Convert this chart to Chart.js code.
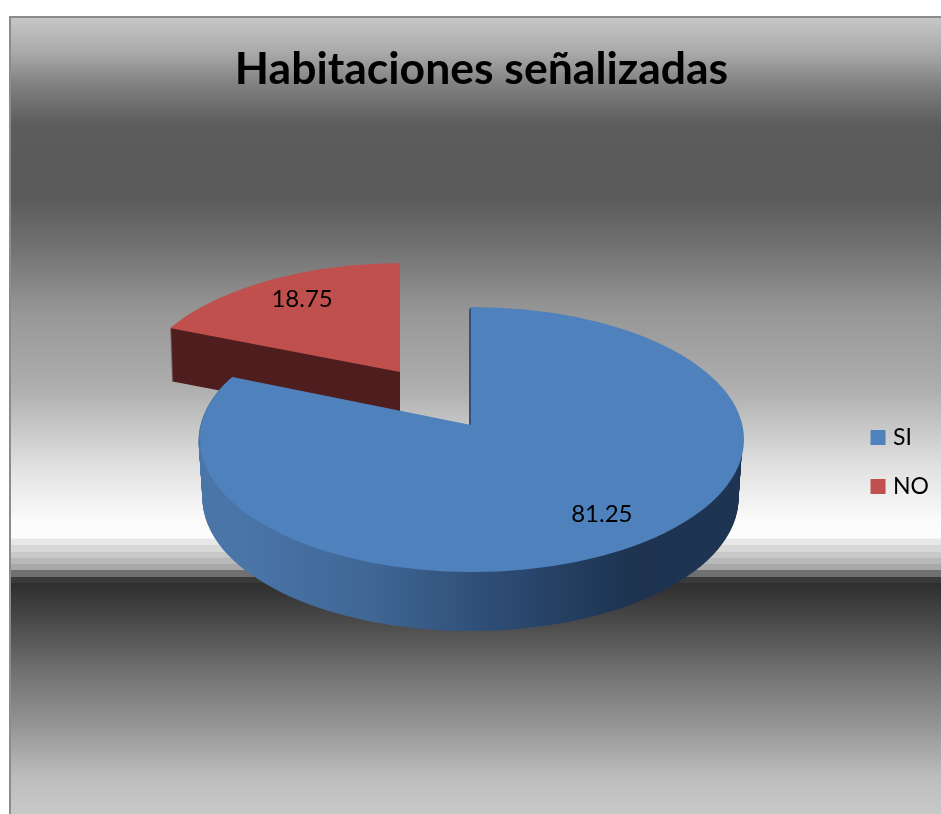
<!DOCTYPE html>
<html>
<head>
<meta charset="utf-8">
<title>Habitaciones señalizadas</title>
<style>
  body { margin: 0; background: #fff; }
  canvas { display: block; }
</style>
<script src="https://cdn.jsdelivr.net/npm/chart.js@4"></script>
</head>
<body>
<canvas id="pieChart" width="941" height="814"></canvas>
<script>
const chartTitle = 'Habitaciones señalizadas';
const categories = ['SI', 'NO'];
const seriesValues = [81.25, 18.75];
const sliceColors = ['#4f81bd', '#c0504d'];

// where each slice lands on the page, the pie is faked 3D by squashing it.
// x,y is the tip of the slice, ex,ey,rx,ry the ellipse of its rim (tip is not
// in the middle of the ellipse in the picture, because of the perspective)
const slicePlaces = [
    { x: 471, y: 425, ex: 472, ey: 439.5, rx: 272, ry: 132.5, flat: 0.4845, depth: 59, shrink: 4, shiftX: -1.5, labelX: 0.866, labelY: 0.808 },
    { x: 400, y: 372, ex: 403, ey: 394.5, rx: 270, ry: 131.5, flat: 0.461, depth: 53, shrink: 3, shiftX: 0, labelX: 0.653, labelY: 0.668 }
];

// background bands [y, grey]
const backgroundBands = [
    [16, 200], [52, 170], [83, 130], [125, 92], [197, 90], [250, 115], [311, 150], [390, 175],
    [467, 225], [519, 250], [538, 253], [539, 232], [545, 232], [545, 216], [552, 216], [552, 200],
    [558, 200], [558, 184], [564, 184], [564, 168], [570, 168], [570, 112], [577, 112], [577, 58],
    [583, 58], [583, 46], [623, 75], [675, 115], [727, 150], [779, 190], [814, 200]
];

const frameBackground = {
    id: 'frameBackground',
    beforeDraw(chart) {
        const ctx = chart.ctx;
        const grad = ctx.createLinearGradient(0, 16, 0, 814);
        backgroundBands.forEach(([y, g]) => {
            grad.addColorStop((y - 16) / (814 - 16), `rgb(${g},${g},${g})`);
        });
        ctx.save();
        ctx.fillStyle = grad;
        ctx.fillRect(9, 16, 932, 798);
        ctx.fillStyle = '#8c8c8c';
        ctx.fillRect(9, 16, 932, 2);
        ctx.fillRect(9, 16, 2, 798);
        ctx.restore();
    }
};

function drawSlice(ctx, el, place, dy, dx, shrink, fill) {
    const saved = el.options;
    el.options = {
        backgroundColor: fill,
        borderColor: 'transparent',
        borderWidth: 0,
        borderAlign: 'center',
        borderRadius: 0,
        offset: 0,
        spacing: 0,
        circular: true
    };
    // arc is drawn oversized, the rim ellipse cuts it to size
    const big = place.rx * 1.25 / el.outerRadius;
    ctx.save();
    ctx.beginPath();
    ctx.ellipse(place.ex + dx, place.ey + dy, place.rx - shrink, place.ry, 0, 0, Math.PI * 2);
    ctx.clip();
    ctx.translate(place.x + dx, place.y + dy);
    ctx.scale(big, big * place.flat);
    ctx.translate(-el.x, -el.y);
    el.draw(ctx);
    ctx.restore();
    el.options = saved;
}

const fakePie3d = {
    id: 'fakePie3d',
    beforeDatasetsDraw(chart) {
        const ctx = chart.ctx;
        const arcs = chart.getDatasetMeta(0).data;
        const wallBlue = ctx.createLinearGradient(200, 0, 744, 0);
        wallBlue.addColorStop(0, '#4a75a9');
        wallBlue.addColorStop(0.25, '#3f6694');
        wallBlue.addColorStop(0.5, '#2c4a72');
        wallBlue.addColorStop(0.75, '#1d3350');
        wallBlue.addColorStop(1, '#1d3554');
        const walls = [wallBlue, '#4f1e1e'];

        // red goes first, the blue slice covers its wall
        [1, 0].forEach((i) => {
            const place = slicePlaces[i];
            for (let d = place.depth; d > 0; d--) {
                const f = d / place.depth;
                drawSlice(ctx, arcs[i], place, d, place.shiftX, place.shrink * f, walls[i]);
            }
            drawSlice(ctx, arcs[i], place, 0, 0, 0, sliceColors[i]);
        });

        // value labels on the slices
        ctx.save();
        ctx.font = '24px Lato';
        ctx.fillStyle = '#000';
        ctx.textAlign = 'center';
        ctx.textBaseline = 'middle';
        arcs.forEach((el, i) => {
            const place = slicePlaces[i];
            const mid = (el.startAngle + el.endAngle) / 2;
            const tx = place.x + Math.cos(mid) * place.rx * place.labelX;
            const ty = place.y + Math.sin(mid) * place.ry * place.labelY;
            ctx.fillText(String(seriesValues[i]), tx, ty);
        });
        ctx.restore();
        return false;
    }
};

// legend sits lower than the middle of the chart area in the picture
const legendNudge = {
    id: 'legendNudge',
    afterLayout(chart) {
        const legend = chart.legend;
        legend.top += 45;
        legend.bottom += 45;
        legend.left -= 2;
        legend.right -= 2;
    }
};

new Chart(document.getElementById('pieChart'), {
    type: 'pie',
    data: {
        labels: categories,
        datasets: [{
            data: seriesValues,
            backgroundColor: sliceColors,
            borderWidth: 0
        }]
    },
    plugins: [frameBackground, fakePie3d, legendNudge],
    options: {
        responsive: false,
        animation: false,
        events: [],
        layout: { padding: { top: 20, left: 22 } },
        plugins: {
            title: {
                display: true,
                text: chartTitle,
                color: '#000',
                font: { family: 'Lato', size: 44.5, weight: 'bold' },
                padding: { top: 23, bottom: 3 }
            },
            legend: {
                position: 'right',
                labels: {
                    color: '#000',
                    font: { family: 'Lato', size: 23 },
                    boxWidth: 7,
                    boxHeight: 7,
                    padding: 26,
                    // thick border on a small box keeps the text close to the square
                    generateLabels: () => categories.map((text, i) => ({
                        text: text,
                        fillStyle: sliceColors[i],
                        strokeStyle: sliceColors[i],
                        lineWidth: 8,
                        fontColor: '#000',
                        hidden: false,
                        index: i
                    }))
                }
            },
            tooltip: { enabled: false }
        }
    }
});
</script>
</body>
</html>
